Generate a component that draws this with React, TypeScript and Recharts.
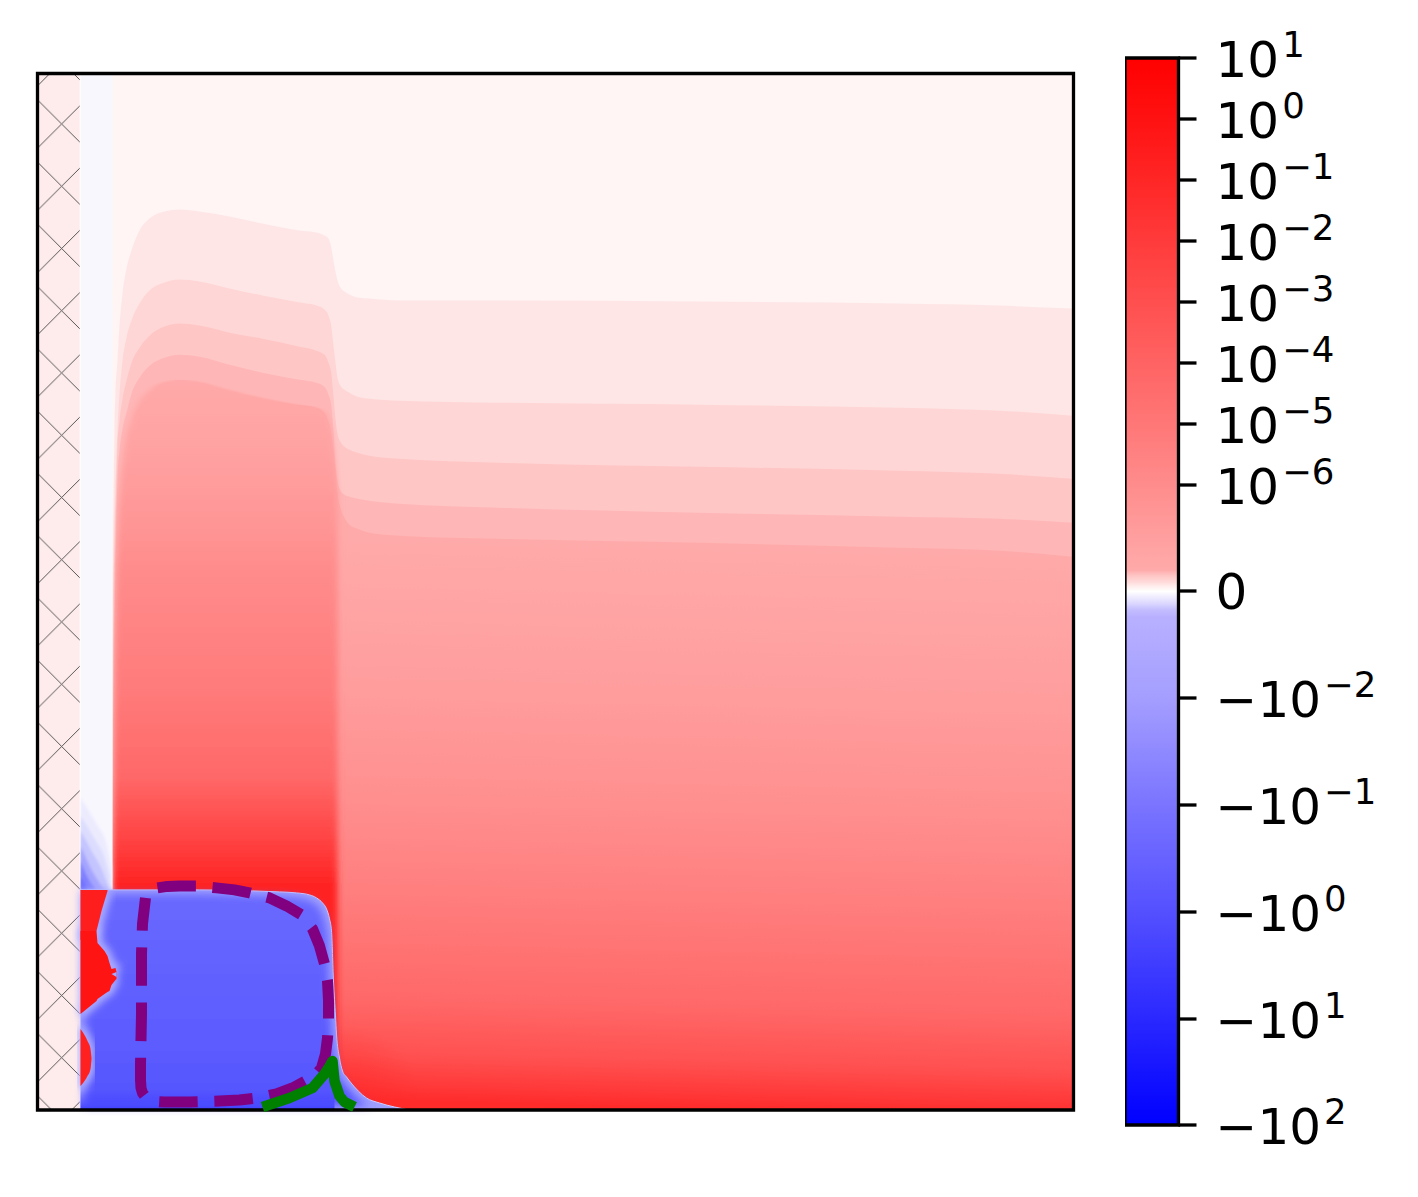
import React from 'react';
import { ComposedChart, Area, Line, XAxis, YAxis, ReferenceArea } from 'recharts';

// main field, distance along x / height from the bottom of the box
const contourX = [75, 76, 77, 78, 80, 82, 85, 89, 94, 102, 112, 127, 142, 162, 192, 225, 262, 279, 287, 291, 294, 296, 298, 300, 303, 307, 312, 320, 332, 362, 462, 662, 862, 962, 1035];
const contour1 = [229, 589, 679, 716, 749, 784, 816, 841, 859, 879, 891, 898, 900, 898, 893, 886, 879, 877, 874, 871, 861, 849, 838, 829, 822, 818, 815, 812, 811, 809, 809, 808, 806, 804, 801];
const contour2 = [229, 489, 569, 619, 679, 716, 749, 772, 789, 806, 819, 827, 830, 828, 821, 814, 807, 804, 800, 794, 782, 764, 747, 732, 724, 720, 717, 713, 711, 709, 707, 705, 702, 699, 694];
const contour3 = [229, 429, 519, 579, 664, 689, 711, 729, 747, 762, 774, 783, 786, 784, 777, 771, 763, 759, 755, 747, 735, 714, 691, 676, 668, 663, 660, 657, 654, 651, 647, 643, 639, 636, 631];
const contour4 = [229, 379, 469, 539, 629, 659, 681, 697, 716, 732, 744, 752, 755, 753, 745, 737, 730, 727, 723, 715, 703, 679, 647, 629, 619, 615, 613, 611, 609, 606, 602, 597, 593, 591, 587];
const contour5 = [229, 329, 429, 499, 579, 616, 647, 672, 691, 709, 720, 728, 730, 728, 720, 712, 705, 702, 697, 688, 675, 659, 639, 616, 602, 592, 585, 581, 577, 574, 571, 567, 562, 559, 553];

// negative pocket
const blueX = [43, 162, 215, 242, 259, 272, 279, 285, 289, 292, 294, 296, 298, 299, 302, 305, 309, 312, 317, 325, 329, 342, 357, 369];
const blueTop = [220, 220, 219, 218, 217, 215, 212, 207, 201, 191, 179, 129, 94, 76, 52, 39, 33, 29, 23, 15, 12, 7, 3, 0.5];

// positive patches against the wall
const red1X = [43, 59, 64, 70];
const red1Low = [170, 179, 199, 219];
const red1High = [220, 220, 220, 220];
const red2X = [43, 59, 60, 67, 70, 72, 74, 78, 79];
const red2Low = [96, 109, 111, 116, 118, 119, 125, 130, 131];
const red2High = [179, 179, 167, 159, 154, 147, 141, 142, 138];
const red3X = [43, 47, 50, 53, 54];
const red3Low = [24, 29, 34, 41, 51];
const red3High = [81, 75, 69, 61, 52];
const notchX = [74, 79];
const notchLow = [136, 133];
const notchHigh = [136, 138];

// blue wedge in the pale strip
const wedgeBase = 220;
const wedgeLayers = [
  { x: [43, 59, 69, 74], top: [312, 286, 266, 242], fill: '#ecebfe' },
  { x: [43, 57, 67, 72], top: [294, 271, 252, 234], fill: '#dcdcfe' },
  { x: [43, 54, 65, 70], top: [279, 259, 239, 225], fill: '#c4c4ff' },
  { x: [43, 52, 62, 66], top: [264, 244, 227, 221], fill: '#a4a4ff' },
  { x: [43, 52, 58], top: [249, 229, 221], fill: '#8080ff' },
  { x: [43, 50], top: [234, 221], fill: '#6c6cff' },
];

// dashed and solid overlays
const loopX = [120, 130, 142, 159, 179, 197, 212, 232, 249, 264, 275, 282, 287, 290, 291, 291, 290, 288, 284, 278, 270, 255, 239, 219, 202, 182, 152, 127, 119, 113, 108, 105, 103.5, 103, 103, 104, 104, 105, 108];
const loopY = [222, 223.5, 224, 224, 222, 220, 217, 212, 204, 195, 181, 164, 146, 129, 109, 91, 72, 56, 42, 35, 30, 22, 16, 12, 10, 9, 8, 8, 8.5, 10, 13, 17, 22, 30, 46, 96, 156, 186, 212];
const greenX = [225, 252, 275, 287, 291, 295, 297, 302, 307, 317];
const greenY = [3, 12, 22, 36, 42, 49, 29, 14, 8, 3];

// colorbar
const cbarTicks = [1067, 1006, 945, 884, 823, 762, 701, 640, 534, 427, 320, 213, 106, 0];
const cbarLabels = [
  ['10', '1'], ['10', '0'], ['10', '\u22121'], ['10', '\u22122'], ['10', '\u22123'], ['10', '\u22124'], ['10', '\u22125'], ['10', '\u22126'],
  ['0', ''],
  ['\u221210', '\u22122'], ['\u221210', '\u22121'], ['\u221210', '0'], ['\u221210', '1'], ['\u221210', '2'],
];
const cbarStops: [number, string][] = [
  [0, '#ff0000'], [6.5, '#ff1414'], [12, '#ff2828'], [17.5, '#ff3c3c'], [23.2, '#ff5050'], [28.9, '#ff6464'], [34.6, '#ff7878'], [40, '#ff8c8c'],
  [48, '#ffaaaa'], [48.5, '#ffc4c4'], [49.1, '#ffdada'], [49.6, '#fff0f0'], [50, '#ffffff'],
  [50.4, '#f2f0ff'], [51.1, '#dcd8ff'], [51.7, '#c4beff'], [52.4, '#b8b0ff'], [60, '#a49eff'], [70, '#7a74ff'], [80, '#5450ff'], [90, '#2a28ff'], [100, '#0000ff'],
];
const centralStops: [number, string][] = [
  [0, '#ffaaaa'], [16, '#ffa0a0'], [29, '#ff9595'], [37, '#ff8c8c'], [62, '#ff7a7a'], [78, '#ff6868'], [90, '#ff4444'], [100, '#ff2020'],
];
const rightStops: [number, string][] = [
  [0, '#ffaaaa'], [28, '#ff9c9c'], [46, '#ff8f8f'], [64, '#ff7d7d'], [82, '#ff6868'], [92, '#ff5050'], [97, '#ff3a3a'], [100, '#ff2b2b'],
];

const xy = (xs: number[], ys: number[]) => xs.map((x, i) => ({ x, y: ys[i] }));
const band = (xs: number[], low: number[], high: number[]) => xs.map((x, i) => ({ x, y: [low[i], high[i]] }));

const stopEls = (stops: [number, string][]) => stops.map(([o, c], i) => <stop key={i} offset={`${o}%`} stopColor={c} />);

function CbarTick({ x, y, index }: any) {
  const [base, sup] = cbarLabels[index];
  return (
    <text x={x + 17} y={y + (sup ? 19 : 18)} fontFamily="DejaVu Sans" fontSize={50} fill="#000">
      <tspan>{base}</tspan>
      {sup && <tspan dx={3} dy={-20} fontSize={35.5}>{sup}</tspan>}
    </text>
  );
}

export default function App() {
  const plain = { isAnimationActive: false, stroke: 'none', dataKey: 'y', activeDot: false, dot: false, fillOpacity: 1 } as any;
  const patches = [
    { data: band(red1X, red1Low, red1High), fill: '#ff1e1e', type: 'linear' },
    { data: band(red2X, red2Low, red2High), fill: '#ff1414', type: 'linear' },
    { data: band(red3X, red3Low, red3High), fill: '#ff2020', type: 'monotone' },
  ];
  return (
    <div style={{ position: 'absolute', left: 0, top: 0, width: 1418, height: 1197, background: '#fff' }}>
      <div style={{ position: 'absolute', left: 0, top: 0 }}>
        <ComposedChart width={1418} height={1197} margin={{ top: 73.5, left: 37.5, right: 344.5, bottom: 87 }}>
          <defs>
            <linearGradient id="central" gradientUnits="userSpaceOnUse" x1="225" y1="379" x2="225" y2="889">{stopEls(centralStops)}</linearGradient>
            <linearGradient id="right" gradientUnits="userSpaceOnUse" x1="712" y1="545" x2="699" y2="1108">{stopEls(rightStops)}</linearGradient>
            <linearGradient id="blue" gradientUnits="userSpaceOnUse" x1="200" y1="889" x2="200" y2="1109">
              <stop offset="0%" stopColor="#6a6aff" />
              <stop offset="50%" stopColor="#6060ff" />
              <stop offset="100%" stopColor="#5656ff" />
            </linearGradient>
            <linearGradient id="blueFloor" x1="0" y1="0" x2="0" y2="1">
              <stop offset="0%" stopColor="#4040ff" stopOpacity={0} />
              <stop offset="100%" stopColor="#3c3cff" stopOpacity={1} />
            </linearGradient>
            <radialGradient id="nearPocket" gradientUnits="userSpaceOnUse" cx="345" cy="1100" r="75">
              <stop offset="0%" stopColor="#ff2828" stopOpacity={0.55} />
              <stop offset="100%" stopColor="#ff2828" stopOpacity={0} />
            </radialGradient>
            <pattern id="hatch" patternUnits="userSpaceOnUse" x="30.55" y="92.85" width="62.25" height="62.25">
              <path d="M0 0L62.25 62.25M0 62.25L62.25 0" stroke="#444" strokeWidth={0.9} fill="none" />
            </pattern>
            <filter id="softX" x="-5%" y="-5%" width="110%" height="110%">
              <feGaussianBlur stdDeviation="3 0" />
            </filter>
            <filter id="wedgeSoft" x="-20%" y="-20%" width="140%" height="140%">
              <feGaussianBlur stdDeviation="1.5" />
            </filter>
            <filter id="inner" x="-5%" y="-5%" width="110%" height="110%">
              <feMorphology operator="erode" radius="4" />
              <feGaussianBlur stdDeviation="4" />
            </filter>
            <filter id="halo" x="-30%" y="-30%" width="160%" height="160%">
              <feGaussianBlur stdDeviation="4" />
            </filter>
          </defs>
          <XAxis type="number" dataKey="x" domain={[0, 1036]} hide />
          <YAxis type="number" domain={[0, 1036]} hide />

          <Area {...plain} data={xy([0, 1036], [1036, 1036])} fill="#fff5f4" />
          <Area {...plain} type="monotone" data={xy(contourX, contour1)} fill="#fee6e6" />
          <Area {...plain} type="monotone" data={xy(contourX, contour2)} fill="#ffd6d6" />
          <Area {...plain} type="monotone" data={xy(contourX, contour3)} fill="#ffc6c6" />
          <Area {...plain} type="monotone" data={xy(contourX, contour4)} fill="#ffb6b6" />
          <Area {...plain} type="monotone" data={xy(contourX.slice(16), contour5.slice(16))} fill="url(#right)" />
          <Area {...plain} type="monotone" data={xy(contourX.slice(0, 24), contour5.slice(0, 24))} fill="url(#central)" filter="url(#softX)" />
          <Area {...plain} data={band([295, 407], [0, 0], [120, 120])} fill="url(#nearPocket)" />

          <Area {...plain} data={xy([43, 75], [1036, 1036])} fill="#f8f7fe" />
          {wedgeLayers.map((l, i) => (
            <Area key={i} {...plain} type="monotone" data={band(l.x, l.x.map(() => wedgeBase), l.top)} fill={l.fill} filter="url(#wedgeSoft)" />
          ))}
          <Area {...plain} data={xy([0, 43], [1036, 1036])} fill="#ffffff" />
          <Area {...plain} data={xy([0, 42.2], [1036, 1036])} fill="#feecec" />
          <Area {...plain} data={xy([0, 42.2], [1036, 1036])} fill="url(#hatch)" />

          <Area {...plain} stroke="#d0d0ff" strokeWidth={1} type="monotone" data={xy(blueX, blueTop)} fill="#a0a0ff" />
          <Area {...plain} type="monotone" data={xy(blueX, blueTop)} fill="url(#blue)" filter="url(#inner)" />
          <Area {...plain} data={band([43, 297], [0, 0], [20, 20])} fill="url(#blueFloor)" />
          {patches.map((p, i) => (
            <Area key={`h${i}`} {...plain} stroke="#b0b0ff" strokeWidth={8} type={p.type} data={p.data} fill="#b0b0ff" filter="url(#halo)" />
          ))}
          {patches.map((p, i) => (
            <Area key={`p${i}`} {...plain} type={p.type} data={p.data} fill={p.fill} />
          ))}
          <Area {...plain} data={band(notchX, notchLow, notchHigh)} fill="#a8a8ff" />

          <Line isAnimationActive={false} dataKey="y" data={xy(loopX, loopY)} stroke="#800080" strokeWidth={11} strokeDasharray="38.5 16.7" strokeLinejoin="round" dot={false} activeDot={false} />
          <Line isAnimationActive={false} dataKey="y" data={xy(greenX, greenY)} stroke="#008000" strokeWidth={10.5} strokeLinejoin="round" dot={false} activeDot={false} />
          <ReferenceArea x1={0} x2={1036} y1={0} y2={1036} fill="none" stroke="#000" strokeWidth={3.3} />
        </ComposedChart>
      </div>
      <div style={{ position: 'absolute', left: 1124.5, top: 0 }}>
        <ComposedChart width={293.5} height={1197} margin={{ top: 58, left: 0, right: 0, bottom: 72 }}>
          <defs>
            <linearGradient id="cbar" x1="0" y1="0" x2="0" y2="1">{stopEls(cbarStops)}</linearGradient>
          </defs>
          <XAxis type="number" dataKey="x" domain={[0, 1]} hide />
          <YAxis
            type="number"
            orientation="right"
            width={240}
            domain={[0, 1067]}
            ticks={cbarTicks}
            interval={0}
            axisLine={false}
            tickSize={18}
            tickLine={{ stroke: '#000', strokeWidth: 3.3 }}
            tick={CbarTick}
          />
          <Area isAnimationActive={false} dataKey="y" data={xy([0, 1], [1067, 1067])} stroke="none" fill="url(#cbar)" fillOpacity={1} dot={false} activeDot={false} />
          <ReferenceArea x1={0} x2={1} y1={0} y2={1067} fill="none" stroke="#000" strokeWidth={3.3} />
        </ComposedChart>
      </div>
    </div>
  );
}
